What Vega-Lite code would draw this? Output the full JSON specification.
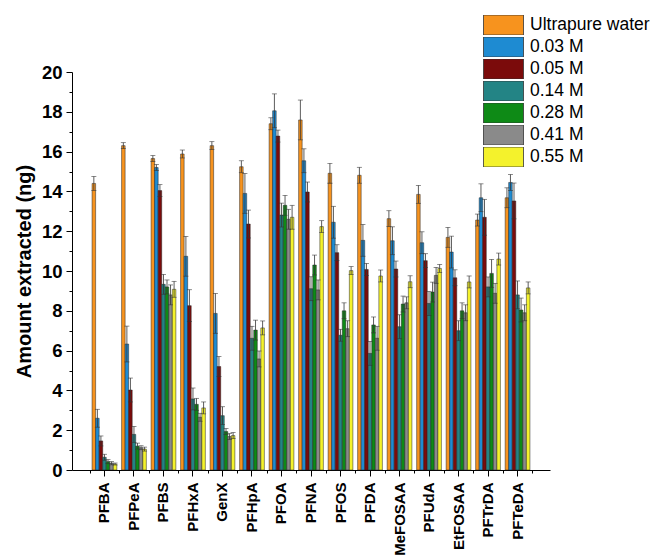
{
  "$schema": "https://vega.github.io/schema/vega-lite/v6.json",
  "width": 478,
  "height": 398,
  "autosize": {"type": "none"},
  "padding": {"left": 72, "top": 72, "right": 104, "bottom": 89},
  "config": {
    "font": "Liberation Sans",
    "view": {"stroke": null},
    "axis": {"domainColor": "#000", "tickColor": "#000", "labelColor": "#000", "titleColor": "#000", "grid": false, "domainWidth": 1, "tickWidth": 1}
  },
  "data": {
    "values": [
      {"compound": "PFBA", "series": "Ultrapure water", "value": 14.4, "err": 0.35},
      {"compound": "PFBA", "series": "0.03 M", "value": 2.6, "err": 0.45},
      {"compound": "PFBA", "series": "0.05 M", "value": 1.46, "err": 0.25},
      {"compound": "PFBA", "series": "0.14 M", "value": 0.64, "err": 0.15},
      {"compound": "PFBA", "series": "0.28 M", "value": 0.42, "err": 0.1},
      {"compound": "PFBA", "series": "0.41 M", "value": 0.34, "err": 0.08},
      {"compound": "PFBA", "series": "0.55 M", "value": 0.3, "err": 0.05},
      {"compound": "PFPeA", "series": "Ultrapure water", "value": 16.3, "err": 0.15},
      {"compound": "PFPeA", "series": "0.03 M", "value": 6.33, "err": 0.9},
      {"compound": "PFPeA", "series": "0.05 M", "value": 4.02, "err": 0.6},
      {"compound": "PFPeA", "series": "0.14 M", "value": 1.79, "err": 0.4},
      {"compound": "PFPeA", "series": "0.28 M", "value": 1.2, "err": 0.15},
      {"compound": "PFPeA", "series": "0.41 M", "value": 1.12, "err": 0.1},
      {"compound": "PFPeA", "series": "0.55 M", "value": 1.05, "err": 0.1},
      {"compound": "PFBS", "series": "Ultrapure water", "value": 15.65, "err": 0.15},
      {"compound": "PFBS", "series": "0.03 M", "value": 15.2, "err": 0.15},
      {"compound": "PFBS", "series": "0.05 M", "value": 14.04, "err": 0.3},
      {"compound": "PFBS", "series": "0.14 M", "value": 9.33, "err": 0.5},
      {"compound": "PFBS", "series": "0.28 M", "value": 9.2, "err": 0.35},
      {"compound": "PFBS", "series": "0.41 M", "value": 8.8, "err": 0.5},
      {"compound": "PFBS", "series": "0.55 M", "value": 9.08, "err": 0.4},
      {"compound": "PFHxA", "series": "Ultrapure water", "value": 15.88, "err": 0.2},
      {"compound": "PFHxA", "series": "0.03 M", "value": 10.74, "err": 1.0},
      {"compound": "PFHxA", "series": "0.05 M", "value": 8.26, "err": 0.8},
      {"compound": "PFHxA", "series": "0.14 M", "value": 3.57, "err": 0.55},
      {"compound": "PFHxA", "series": "0.28 M", "value": 3.3, "err": 0.3},
      {"compound": "PFHxA", "series": "0.41 M", "value": 2.65, "err": 0.2},
      {"compound": "PFHxA", "series": "0.55 M", "value": 3.12, "err": 0.3},
      {"compound": "GenX", "series": "Ultrapure water", "value": 16.3, "err": 0.2},
      {"compound": "GenX", "series": "0.03 M", "value": 7.87, "err": 1.0},
      {"compound": "GenX", "series": "0.05 M", "value": 5.2, "err": 0.5},
      {"compound": "GenX", "series": "0.14 M", "value": 2.73, "err": 0.45},
      {"compound": "GenX", "series": "0.28 M", "value": 1.93, "err": 0.15},
      {"compound": "GenX", "series": "0.41 M", "value": 1.68, "err": 0.15},
      {"compound": "GenX", "series": "0.55 M", "value": 1.73, "err": 0.15},
      {"compound": "PFHpA", "series": "Ultrapure water", "value": 15.24, "err": 0.3},
      {"compound": "PFHpA", "series": "0.03 M", "value": 13.9, "err": 1.0},
      {"compound": "PFHpA", "series": "0.05 M", "value": 12.36, "err": 0.7},
      {"compound": "PFHpA", "series": "0.14 M", "value": 6.62, "err": 0.6},
      {"compound": "PFHpA", "series": "0.28 M", "value": 7.03, "err": 0.5},
      {"compound": "PFHpA", "series": "0.41 M", "value": 5.58, "err": 0.4},
      {"compound": "PFHpA", "series": "0.55 M", "value": 7.14, "err": 0.35},
      {"compound": "PFOA", "series": "Ultrapure water", "value": 17.4, "err": 0.3},
      {"compound": "PFOA", "series": "0.03 M", "value": 18.05, "err": 0.85},
      {"compound": "PFOA", "series": "0.05 M", "value": 16.78, "err": 0.3},
      {"compound": "PFOA", "series": "0.14 M", "value": 12.81, "err": 0.6},
      {"compound": "PFOA", "series": "0.28 M", "value": 13.3, "err": 0.5},
      {"compound": "PFOA", "series": "0.41 M", "value": 12.6, "err": 0.5},
      {"compound": "PFOA", "series": "0.55 M", "value": 12.7, "err": 0.6},
      {"compound": "PFNA", "series": "Ultrapure water", "value": 17.59, "err": 1.0},
      {"compound": "PFNA", "series": "0.03 M", "value": 15.54, "err": 0.6},
      {"compound": "PFNA", "series": "0.05 M", "value": 13.97, "err": 0.5},
      {"compound": "PFNA", "series": "0.14 M", "value": 9.11, "err": 0.6},
      {"compound": "PFNA", "series": "0.28 M", "value": 10.3, "err": 0.5},
      {"compound": "PFNA", "series": "0.41 M", "value": 9.05, "err": 0.5},
      {"compound": "PFNA", "series": "0.55 M", "value": 12.23, "err": 0.3},
      {"compound": "PFOS", "series": "Ultrapure water", "value": 14.91, "err": 0.5},
      {"compound": "PFOS", "series": "0.03 M", "value": 12.45, "err": 0.8},
      {"compound": "PFOS", "series": "0.05 M", "value": 10.92, "err": 0.4},
      {"compound": "PFOS", "series": "0.14 M", "value": 6.77, "err": 0.3},
      {"compound": "PFOS", "series": "0.28 M", "value": 8.0, "err": 0.4},
      {"compound": "PFOS", "series": "0.41 M", "value": 7.1, "err": 0.4},
      {"compound": "PFOS", "series": "0.55 M", "value": 10.02, "err": 0.2},
      {"compound": "PFDA", "series": "Ultrapure water", "value": 14.81, "err": 0.4},
      {"compound": "PFDA", "series": "0.03 M", "value": 11.54, "err": 0.8},
      {"compound": "PFDA", "series": "0.05 M", "value": 10.08, "err": 0.3},
      {"compound": "PFDA", "series": "0.14 M", "value": 5.86, "err": 0.6},
      {"compound": "PFDA", "series": "0.28 M", "value": 7.29, "err": 0.4},
      {"compound": "PFDA", "series": "0.41 M", "value": 6.62, "err": 0.6},
      {"compound": "PFDA", "series": "0.55 M", "value": 9.75, "err": 0.3},
      {"compound": "MeFOSAA", "series": "Ultrapure water", "value": 12.63, "err": 0.4},
      {"compound": "MeFOSAA", "series": "0.03 M", "value": 11.52, "err": 0.7},
      {"compound": "MeFOSAA", "series": "0.05 M", "value": 10.1, "err": 0.4},
      {"compound": "MeFOSAA", "series": "0.14 M", "value": 7.2, "err": 0.6},
      {"compound": "MeFOSAA", "series": "0.28 M", "value": 8.34, "err": 0.4},
      {"compound": "MeFOSAA", "series": "0.41 M", "value": 8.4, "err": 0.3},
      {"compound": "MeFOSAA", "series": "0.55 M", "value": 9.46, "err": 0.3},
      {"compound": "PFUdA", "series": "Ultrapure water", "value": 13.85, "err": 0.45},
      {"compound": "PFUdA", "series": "0.03 M", "value": 11.42, "err": 0.55},
      {"compound": "PFUdA", "series": "0.05 M", "value": 10.52, "err": 0.35},
      {"compound": "PFUdA", "series": "0.14 M", "value": 8.37, "err": 0.6},
      {"compound": "PFUdA", "series": "0.28 M", "value": 8.94, "err": 0.5},
      {"compound": "PFUdA", "series": "0.41 M", "value": 9.78, "err": 0.4},
      {"compound": "PFUdA", "series": "0.55 M", "value": 10.13, "err": 0.2},
      {"compound": "EtFOSAA", "series": "Ultrapure water", "value": 11.69, "err": 0.5},
      {"compound": "EtFOSAA", "series": "0.03 M", "value": 10.95, "err": 0.8},
      {"compound": "EtFOSAA", "series": "0.05 M", "value": 9.66, "err": 0.4},
      {"compound": "EtFOSAA", "series": "0.14 M", "value": 7.0, "err": 0.5},
      {"compound": "EtFOSAA", "series": "0.28 M", "value": 8.0, "err": 0.4},
      {"compound": "EtFOSAA", "series": "0.41 M", "value": 7.9, "err": 0.4},
      {"compound": "EtFOSAA", "series": "0.55 M", "value": 9.45, "err": 0.3},
      {"compound": "PFTrDA", "series": "Ultrapure water", "value": 12.56, "err": 0.3},
      {"compound": "PFTrDA", "series": "0.03 M", "value": 13.68, "err": 0.7},
      {"compound": "PFTrDA", "series": "0.05 M", "value": 12.7, "err": 0.9},
      {"compound": "PFTrDA", "series": "0.14 M", "value": 9.2, "err": 0.5},
      {"compound": "PFTrDA", "series": "0.28 M", "value": 9.88, "err": 0.7},
      {"compound": "PFTrDA", "series": "0.41 M", "value": 8.88, "err": 0.5},
      {"compound": "PFTrDA", "series": "0.55 M", "value": 10.6, "err": 0.3},
      {"compound": "PFTeDA", "series": "Ultrapure water", "value": 13.68, "err": 0.5},
      {"compound": "PFTeDA", "series": "0.03 M", "value": 14.45, "err": 0.4},
      {"compound": "PFTeDA", "series": "0.05 M", "value": 13.52, "err": 0.9},
      {"compound": "PFTeDA", "series": "0.14 M", "value": 8.8, "err": 0.7},
      {"compound": "PFTeDA", "series": "0.28 M", "value": 8.04, "err": 0.6},
      {"compound": "PFTeDA", "series": "0.41 M", "value": 7.9, "err": 0.4},
      {"compound": "PFTeDA", "series": "0.55 M", "value": 9.15, "err": 0.3}
    ]
  },
  "encoding": {
    "y": {
      "field": "value",
      "type": "quantitative",
      "scale": {"domain": [0, 20], "nice": false, "zero": true},
      "axis": {
        "title": "Amount extracted (ng)",
        "values": [0,1,2,3,4,5,6,7,8,9,10,11,12,13,14,15,16,17,18,19,20],
        "labelExpr": "datum.value % 2 === 0 ? datum.label : ''",
        "tickSize": {"condition": {"test": "datum.value % 2 === 0", "value": 6}, "value": 3},
        "labelFontSize": 18.5,
        "labelFontWeight": "bold",
        "labelPadding": 4,
        "titleFontSize": 20,
        "titleFontWeight": "bold",
        "titlePadding": 7
      }
    }
  },
  "layer": [
    {
      "mark": {"type": "bar", "stroke": "#222", "strokeWidth": 0.5},
      "encoding": {
        "x": {
          "field": "compound",
          "type": "nominal",
          "sort": ["PFBA","PFPeA","PFBS","PFHxA","GenX","PFHpA","PFOA","PFNA","PFOS","PFDA","MeFOSAA","PFUdA","EtFOSAA","PFTrDA","PFTeDA"],
          "scale": {"paddingInner": 0, "paddingOuter": 0.6},
          "axis": {"title": null, "labelAngle": 270, "labelFontSize": 15, "labelFontWeight": "bold", "tickSize": 6, "labelPadding": 6}
        },
        "xOffset": {
          "field": "series",
          "type": "nominal",
          "sort": ["Ultrapure water","0.03 M","0.05 M","0.14 M","0.28 M","0.41 M","0.55 M"],
          "scale": {"paddingInner": 0, "paddingOuter": 0.67}
        },
        "color": {
          "field": "series",
          "type": "nominal",
          "sort": ["Ultrapure water","0.03 M","0.05 M","0.14 M","0.28 M","0.41 M","0.55 M"],
          "scale": {
            "domain": ["Ultrapure water","0.03 M","0.05 M","0.14 M","0.28 M","0.41 M","0.55 M"],
            "range": ["#F7931E","#1E8BD2","#7B0B0B","#238485","#0E8A16","#8A8A8A","#F4F22C"]
          },
          "legend": {
            "title": null,
            "orient": "none",
            "legendX": 411,
            "legendY": -57,
            "symbolType": "M-1,-0.5H1V0.5H-1Z",
            "symbolSize": 1600,
            "clipHeight": 20,
            "rowPadding": 2,
            "labelFontSize": 17.5,
            "labelOffset": 6,
            "labelColor": "#000",
            "symbolStrokeColor": "#333",
            "symbolStrokeWidth": 0.8,
            "symbolOpacity": 1
          }
        }
      }
    },
    {
      "mark": {"type": "errorbar", "color": "#333", "thickness": 0.8, "ticks": {"size": 5, "color": "#333", "thickness": 0.8}},
      "encoding": {
        "x": {
          "field": "compound",
          "type": "nominal",
          "sort": ["PFBA","PFPeA","PFBS","PFHxA","GenX","PFHpA","PFOA","PFNA","PFOS","PFDA","MeFOSAA","PFUdA","EtFOSAA","PFTrDA","PFTeDA"],
          "scale": {"paddingInner": 0, "paddingOuter": 0.6},
          "axis": {"orient": "bottom", "title": null, "labels": false, "domain": false, "tickBand": "extent", "tickSize": 3}
        },
        "xOffset": {
          "field": "series",
          "type": "nominal",
          "sort": ["Ultrapure water","0.03 M","0.05 M","0.14 M","0.28 M","0.41 M","0.55 M"],
          "scale": {"paddingInner": 0, "paddingOuter": 0.67}
        },
        "yError": {"field": "err"}
      }
    }
  ],
  "resolve": {"axis": {"x": "independent"}}
}
